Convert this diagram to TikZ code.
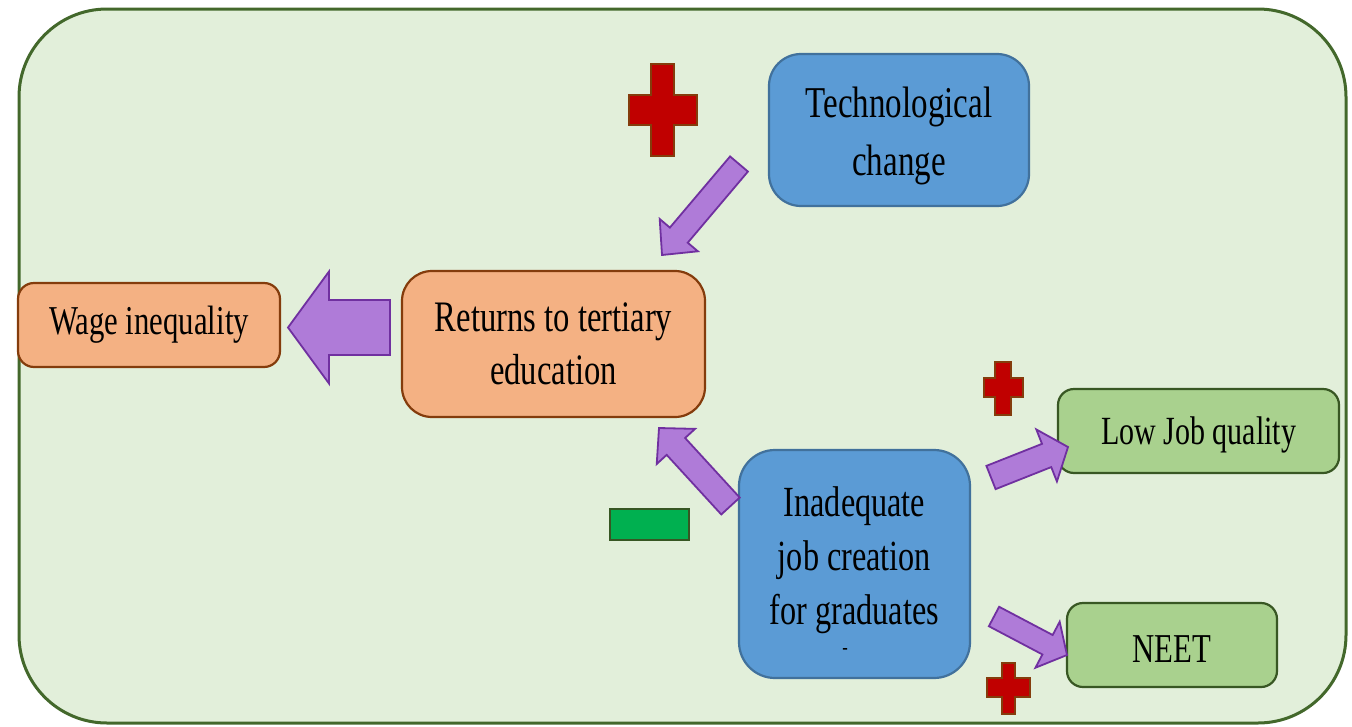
\documentclass[tikz,border=0pt]{standalone}
\usepackage{fontspec}
\setmainfont[FakeStretch=0.75]{Liberation Serif}
\usetikzlibrary{calc}
\definecolor{bgfill}{HTML}{E2EFDA}
\definecolor{bgline}{HTML}{43682B}
\definecolor{bluefill}{HTML}{5B9BD5}
\definecolor{blueline}{HTML}{41719C}
\definecolor{orfill}{HTML}{F4B183}
\definecolor{orline}{HTML}{843C0C}
\definecolor{grfill}{HTML}{A9D18E}
\definecolor{grline}{HTML}{385723}
\definecolor{arfill}{HTML}{AF7BD8}
\definecolor{arline}{HTML}{7030A0}
\definecolor{plfill}{HTML}{C00000}
\definecolor{plline}{HTML}{843C0C}
\definecolor{mifill}{HTML}{00B050}
\definecolor{miline}{HTML}{375623}
\newcommand\fsz[2]{\fontsize{#1}{#2}\selectfont}
\newcommand\blockarrow[5]{%
  \coordinate (hb) at ($(#2)!#5!(#1)$);
  \draw[barr] ($(#1)!#3!90:(#2)$) -- ($(hb)!#3!-90:(#1)$) -- ($(hb)!#4!-90:(#1)$) -- (#2)
     -- ($(hb)!#4!90:(#1)$) -- ($(hb)!#3!90:(#1)$) -- ($(#1)!#3!-90:(#2)$) -- cycle;}
\begin{document}
\begin{tikzpicture}[x=1pt,y=-1pt,
  box/.style={draw, line width=2.2pt, rounded corners=#1, align=center, inner sep=0pt},
  bluebox/.style={box=#1, fill=bluefill, draw=blueline},
  orbox/.style={box=#1, fill=orfill, draw=orline},
  grbox/.style={box=#1, fill=grfill, draw=grline},
  txt/.style={align=center, inner sep=0pt},
  barr/.style={fill=arfill, draw=arline, line width=1.8pt, line join=miter},
  plussign/.style={fill=plfill, draw=plline, line width=1.6pt},
  minussign/.style={fill=mifill, draw=miline, line width=1.6pt}]
\useasboundingbox (0,0) rectangle (1352,726);
% background panel
\draw[fill=bgfill, draw=bgline, line width=3pt, rounded corners=88pt] (19,9) rectangle (1346,723);

% boxes
\node[orbox=16pt, minimum width=262pt, minimum height=84pt, font=\fsz{41}{50}] (wage) at (149,325) {Wage inequality};
\node[orbox=30pt, minimum width=303pt, minimum height=146pt, font=\fsz{43.5}{53}] (ret) at (553.5,344) {Returns to tertiary\\education};
\node[bluebox=32pt, minimum width=260pt, minimum height=152pt] (tech) at (899,130) {};
\node[txt, font=\fsz{44}{58}] (techtxt) at (899,136) {Technological\\change};
\node[bluebox=36pt, minimum width=231pt, minimum height=228pt] (inad) at (854.5,564) {};
\node[txt, font=\fsz{43}{54}] (inadtxt) at (854.5,560) {Inadequate\\job creation\\for graduates};
\node[font=\fsz{22}{22}, inner sep=0pt] (dash) at (845,651) {-};
\node[grbox=16pt, minimum width=281pt, minimum height=84pt] (low) at (1198.5,431) {};
\node[txt, font=\fsz{40}{50}] (lowtxt) at (1198.5,435) {Low Job quality};
\node[grbox=16pt, minimum width=210pt, minimum height=84pt] (neet) at (1172,645) {};
\node[txt, font=\fsz{41}{50}] (neettxt) at (1172,649) {NEET};

% block arrows
\coordinate (a1t) at (390,327.5); \coordinate (a1h) at (288,327.5);
\blockarrow{a1t}{a1h}{27.5pt}{56pt}{41pt}
\coordinate (a2t) at (739,164); \coordinate (a2h) at (662,255);
\blockarrow{a2t}{a2h}{11.7pt}{25pt}{26pt}
\coordinate (a3t) at (730.5,506); \coordinate (a3h) at (659,428);
\blockarrow{a3t}{a3h}{12.5pt}{26pt}{25pt}
\coordinate (a4t) at (991,477.5); \coordinate (a4h) at (1068,447);
\blockarrow{a4t}{a4h}{12.5pt}{28pt}{23pt}
\coordinate (a5t) at (994,616.5); \coordinate (a5h) at (1067,655);
\blockarrow{a5t}{a5h}{11pt}{26pt}{22pt}

% plus signs
\draw[plussign] (651,64) -- (674,64) -- (674,95) -- (697,95) -- (697,125) -- (674,125) -- (674,156)
  -- (651,156) -- (651,125) -- (629,125) -- (629,95) -- (651,95) -- cycle;
\draw[plussign] (995,362) -- (1011,362) -- (1011,378) -- (1023,378) -- (1023,397) -- (1011,397) -- (1011,415)
  -- (995,415) -- (995,397) -- (984,397) -- (984,378) -- (995,378) -- cycle;
\draw[plussign] (1002,663) -- (1015,663) -- (1015,678) -- (1030,678) -- (1030,697) -- (1015,697) -- (1015,714)
  -- (1002,714) -- (1002,697) -- (987,697) -- (987,678) -- (1002,678) -- cycle;
% minus sign
\draw[minussign] (610,509) rectangle (689,540);
\end{tikzpicture}
\end{document}
